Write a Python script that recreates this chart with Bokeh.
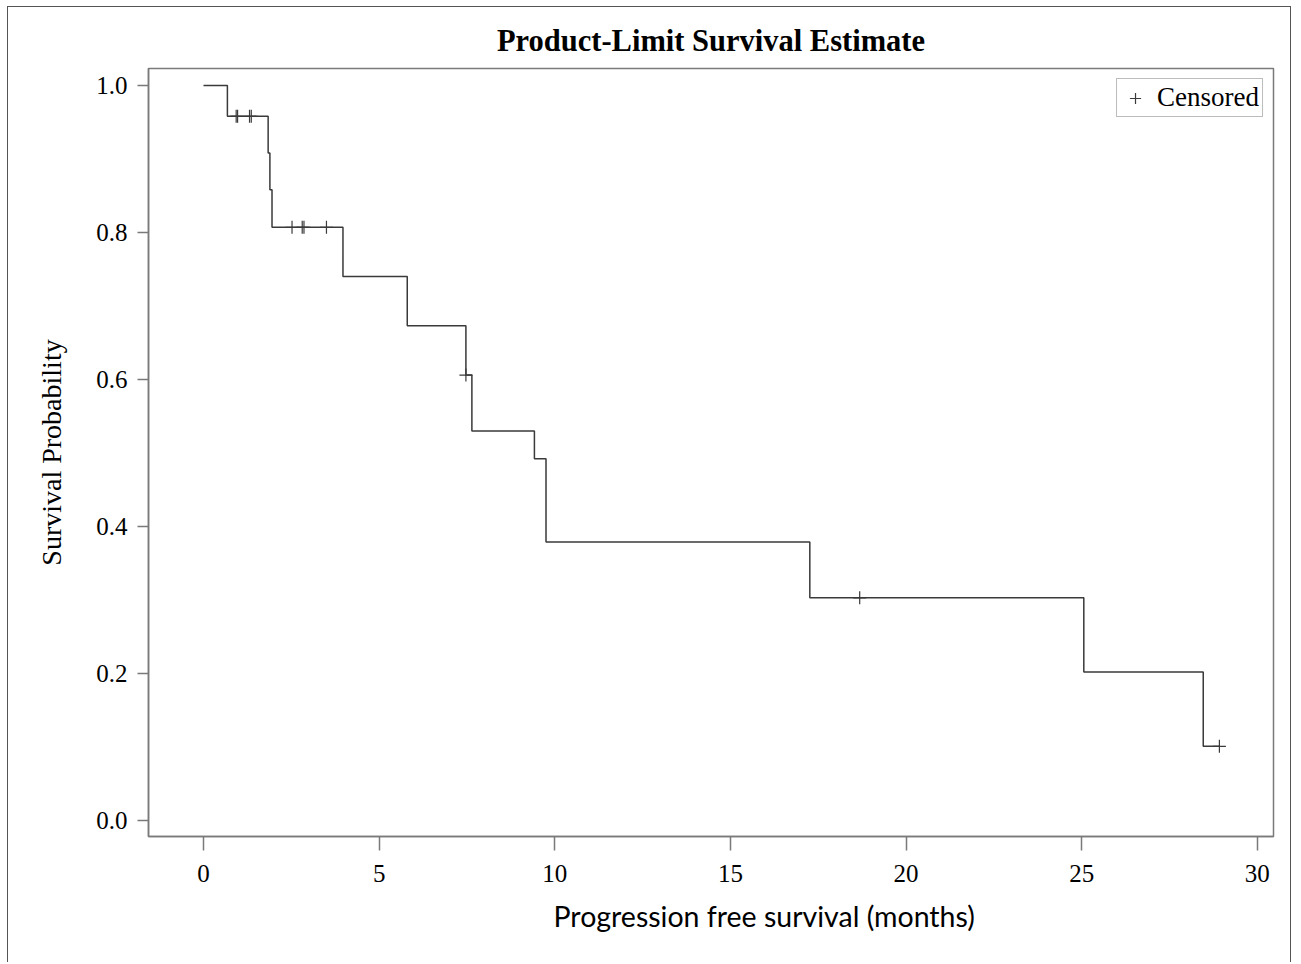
from bokeh.plotting import figure
from bokeh.models import Range1d, FixedTicker, Legend, LegendItem, NumeralTickFormatter, Title
from bokeh.embed import file_html
from bokeh.resources import INLINE

# Kaplan-Meier step data (event times and survival after each event)
event_times = [0.0, 0.68, 1.84, 1.89, 1.95, 3.97, 5.80, 7.47, 7.64, 9.42, 9.75, 17.26, 25.06, 28.46]
survival = [1.0, 0.958, 0.908, 0.858, 0.807, 0.740, 0.673, 0.606, 0.530, 0.492, 0.379, 0.303, 0.202, 0.101]
last_time = 28.92

# Censored observations
censor_times = [0.93, 0.97, 1.31, 1.36, 2.52, 2.81, 2.86, 3.50, 7.47, 18.68, 28.92]
censor_surv = [0.958, 0.958, 0.958, 0.958, 0.807, 0.807, 0.807, 0.807, 0.606, 0.303, 0.101]

x_ticks = [0, 5, 10, 15, 20, 25, 30]
y_ticks = [0.0, 0.2, 0.4, 0.6, 0.8, 1.0]

SERIF = "Liberation Serif"
AXIS_COL = "#7a7a7a"
LINE_COL = "#3a3a3a"

p = figure(width=1284, height=956, output_backend="svg", toolbar_location=None,
           x_range=Range1d(-1.566, 30.46), y_range=Range1d(-0.0217, 1.023),
           min_border_left=140, min_border_right=19, min_border_top=61, min_border_bottom=127)
p.styles = {"border-top": "1px solid #555", "border-left": "1px solid #555",
            "border-right": "1px solid #555", "margin-left": "7px", "margin-top": "6px"}

p.title.text = "Product-Limit Survival Estimate"
p.title.align = "center"
p.title.text_font = SERIF
p.title.text_font_size = "30.5px"
p.title.text_font_style = "bold"
p.title.text_color = "black"
p.title.offset = 0
p.title.standoff = 21

p.xgrid.visible = False
p.ygrid.visible = False
p.outline_line_color = AXIS_COL
p.outline_line_width = 1.5

for ax in (p.xaxis[0], p.yaxis[0]):
    ax.axis_line_color = AXIS_COL
    ax.axis_line_width = 1.5
    ax.major_tick_line_color = AXIS_COL
    ax.major_tick_line_width = 1.5
    ax.minor_tick_line_color = None
    ax.major_tick_in = 0
    ax.major_label_text_font = SERIF
    ax.major_label_text_font_size = "25px"
    ax.major_label_text_color = "black"
    ax.axis_label_text_color = "black"
    ax.axis_label_text_font_style = "normal"

p.xaxis.ticker = FixedTicker(ticks=x_ticks)
p.yaxis.ticker = FixedTicker(ticks=y_ticks)
p.yaxis.formatter = NumeralTickFormatter(format="0.0")
p.xaxis.major_tick_out = 14
p.yaxis.major_tick_out = 11
p.xaxis.major_label_standoff = 14
p.yaxis.major_label_standoff = 10

p.yaxis.axis_label = "Survival Probability"
p.yaxis.axis_label_text_font = SERIF
p.yaxis.axis_label_text_font_size = "28px"
p.yaxis.axis_label_standoff = 26

xlab = Title(text="Progression free survival (months)", align="left", offset=405,
             text_font="Lato", text_font_size="28.5px", text_font_style="normal",
             text_color="black", standoff=25)
p.add_layout(xlab, "below")

xs = event_times + [last_time]
ys = survival + [survival[-1]]
p.step(xs, ys, mode="after", line_color=LINE_COL, line_width=1.5)

cr = p.scatter(censor_times, censor_surv, marker="cross", size=13,
               line_color=LINE_COL, line_width=1.2)

legend = Legend(items=[LegendItem(label="Censored", renderers=[cr])],
                location="top_right")
legend.label_text_font = SERIF
legend.label_text_font_size = "27px"
legend.label_text_color = "black"
legend.border_line_color = AXIS_COL
legend.border_line_width = 1.2
legend.margin = 10
legend.padding = 3
legend.glyph_width = 30
legend.glyph_height = 28
legend.label_standoff = 7
legend.label_height = 28
legend.background_fill_alpha = 1.0
p.add_layout(legend)

open("out.html", "w").write(file_html(p, INLINE))
